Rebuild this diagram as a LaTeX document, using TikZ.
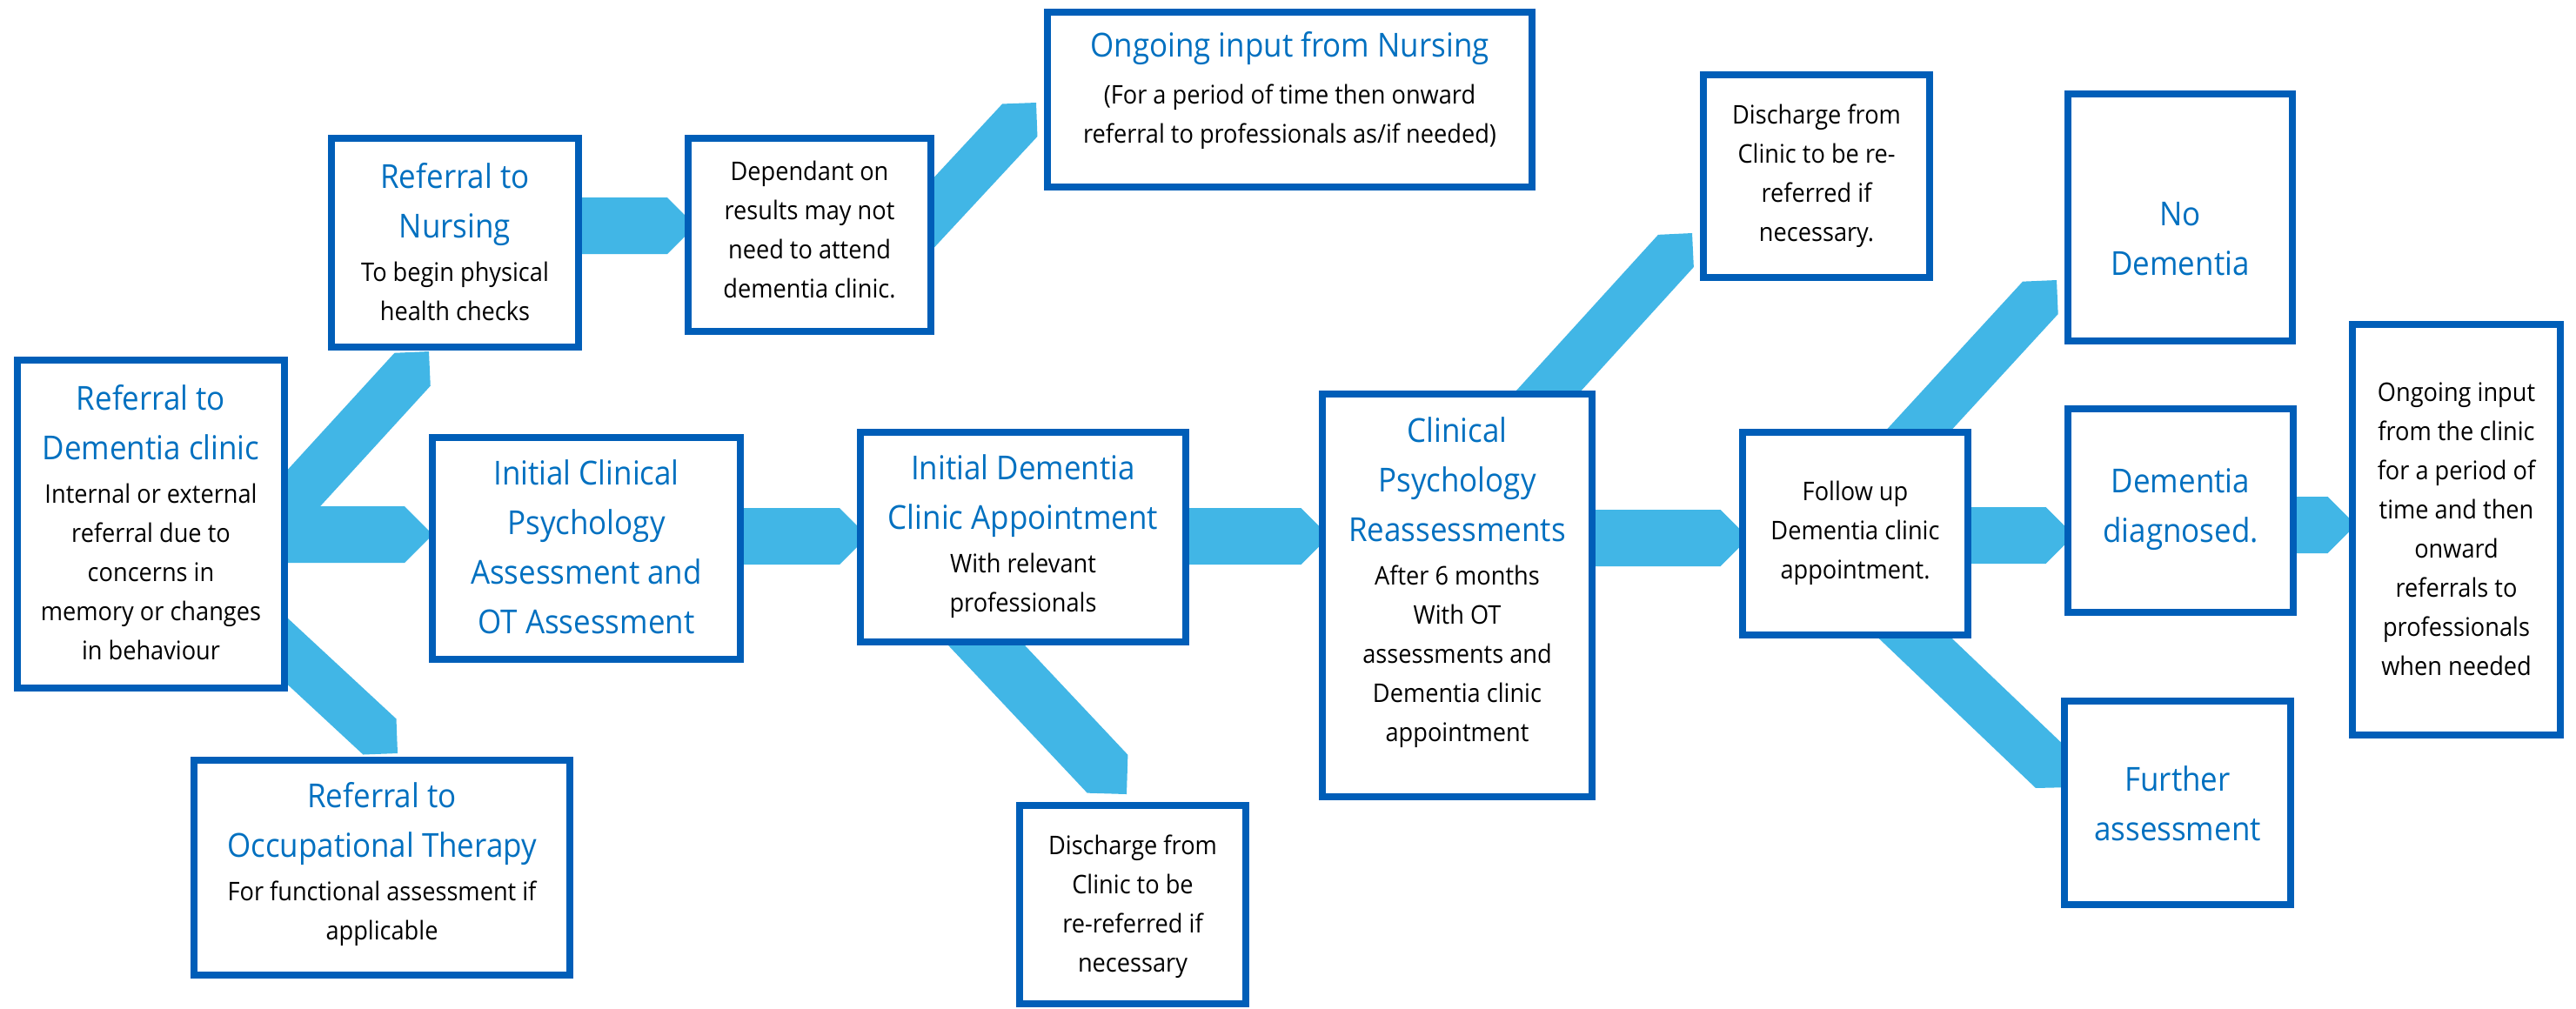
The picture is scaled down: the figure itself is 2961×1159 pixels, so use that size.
\documentclass[tikz,border=0pt]{standalone}
\usepackage{fontspec}
\setmainfont{Open Sans}[FakeStretch=0.92]
\usetikzlibrary{calc,fit}
\definecolor{boxblue}{HTML}{005EB8}
\definecolor{ttlblue}{HTML}{0070C0}
\definecolor{arrowblue}{HTML}{41B6E6}
\newcommand\ttlf{\fontsize{10.8pt}{12.8pt}\selectfont\color{ttlblue}}
\newcommand\bdyf{\fontsize{8.4pt}{12.8pt}\selectfont}
\newcommand\flowarrow[3]{%
  \coordinate (fas) at ($(#2)!#3!(#1)$);
  \fill[arrowblue] ($(#1)!#3!90:(#2)$) -- ($(fas)!#3!-90:(#1)$) -- (#2) -- ($(fas)!#3!90:(#1)$) -- ($(#1)!#3!-90:(#2)$) -- cycle;
}
\tikzset{
  flowbox/.style={draw=boxblue, line width=2.276pt, fill=white, inner sep=0pt, rectangle},
  flowtext/.style={align=center, font=\bdyf, inner sep=0pt, text=black},
}
\begin{document}
\begin{tikzpicture}[x=0.01cm,y=-0.01cm]
\useasboundingbox (0,0) rectangle (2961,1159);
\fill[white] (0,0) rectangle (2961,1159);

% connector end points
\coordinate (a1s) at (290.5,625.4);  \coordinate (a1t) at (493,404);
\coordinate (a2s) at (300,614.5);    \coordinate (a2t) at (497.5,614.5);
\coordinate (a3s) at (237,662);      \coordinate (a3t) at (457,866);
\coordinate (a4s) at (640,259.5);    \coordinate (a4t) at (799.5,259.5);
\coordinate (a5s) at (1021,301);     \coordinate (a5t) at (1191,118);
\coordinate (a6s) at (830,616.5);    \coordinate (a6t) at (997.5,616.5);
\coordinate (a7s) at (1340,616.5);   \coordinate (a7t) at (1528,616.5);
\coordinate (a8s) at (1089.5,694.6); \coordinate (a8t) at (1295,913);
\coordinate (a9s) at (1810,618.5);   \coordinate (a9t) at (2010,618.5);
\coordinate (a10s) at (1743,490);    \coordinate (a10t) at (1945,268);
\coordinate (a11s) at (2240,615.5);  \coordinate (a11t) at (2384,615.5);
\coordinate (a12s) at (2161,543);    \coordinate (a12t) at (2364,322);
\coordinate (a13s) at (2164,698);    \coordinate (a13t) at (2381,905);
\coordinate (a14s) at (2610,603.5);  \coordinate (a14t) at (2708,603.5);

\flowarrow{a1s}{a1t}{0.28cm}
\flowarrow{a2s}{a2t}{0.325cm}
\flowarrow{a3s}{a3t}{0.28cm}
\flowarrow{a4s}{a4t}{0.325cm}
\flowarrow{a5s}{a5t}{0.275cm}
\flowarrow{a6s}{a6t}{0.325cm}
\flowarrow{a7s}{a7t}{0.325cm}
\flowarrow{a8s}{a8t}{0.32cm}
\flowarrow{a9s}{a9t}{0.325cm}
\flowarrow{a10s}{a10t}{0.276cm}
\flowarrow{a11s}{a11t}{0.325cm}
\flowarrow{a12s}{a12t}{0.276cm}
\flowarrow{a13s}{a13t}{0.29cm}
\flowarrow{a14s}{a14t}{0.325cm}

% boxes (outer edge minus half line width)
\node[flowbox, fit={(20,414) (327,791)}] (A) {};
\node[flowbox, fit={(381,159) (665,399)}] (B) {};
\node[flowbox, fit={(791,159) (1070,381)}] (Dep) {};
\node[flowbox, fit={(1204,14) (1761,215)}] (ON) {};
\node[flowbox, fit={(497,503) (851,758)}] (ICP) {};
\node[flowbox, fit={(223,874) (655,1121)}] (OT) {};
\node[flowbox, fit={(989,497) (1363,738)}] (IDC) {};
\node[flowbox, fit={(1172,926) (1432,1154)}] (DB) {};
\node[flowbox, fit={(1520,453) (1830,916)}] (CPR) {};
\node[flowbox, fit={(1958,86) (2218,319)}] (DT) {};
\node[flowbox, fit={(2003,497) (2262,730)}] (FU) {};
\node[flowbox, fit={(2377,108) (2635,392)}] (ND) {};
\node[flowbox, fit={(2377,470) (2636,704)}] (DD) {};
\node[flowbox, fit={(2373,806) (2633,1040)}] (FA) {};
\node[flowbox, fit={(2704,373) (2943,845)}] (OC) {};

% texts
\node[flowtext] (At) at (173.5,601) {{\ttlf Referral to}\\[3.4pt]{\ttlf Dementia clinic}\\[1.4pt]Internal or external\\referral due to\\concerns in\\memory or changes\\in behaviour};
\node[flowtext] (Bt) at (523,278) {{\ttlf Referral to}\\[3.4pt]{\ttlf Nursing}\\[1.4pt]To begin physical\\health checks};
\node[flowtext] (Dept) at (930.5,263.5) {Dependant on\\results may not\\need to attend\\dementia clinic.};
\node[flowtext] (ONt) at (1482.5,104) {{\ttlf Ongoing input from Nursing}\\[2.3pt](For a period of time then onward\\referral to professionals as/if needed)};
\node[flowtext] (ICPt) at (674,628.5) {{\ttlf Initial Clinical}\\[3.4pt]{\ttlf Psychology}\\[3.4pt]{\ttlf Assessment and}\\[3.4pt]{\ttlf OT Assessment}};
\node[flowtext] (OTt) at (439,993.5) {{\ttlf Referral to}\\[3.4pt]{\ttlf Occupational Therapy}\\[1.4pt]For functional assessment if\\applicable};
\node[flowtext] (IDCt) at (1176,616.5) {{\ttlf Initial Dementia}\\[3.4pt]{\ttlf Clinic Appointment}\\[1.4pt]With relevant\\professionals};
\node[flowtext] (DBt) at (1302,1042.5) {Discharge from\\Clinic to be\\re-referred if\\necessary};
\node[flowtext] (CPRt) at (1675,669.5) {{\ttlf Clinical}\\[3.4pt]{\ttlf Psychology}\\[3.4pt]{\ttlf Reassessments}\\[1.4pt]After 6 months\\With OT\\assessments and\\Dementia clinic\\appointment};
\node[flowtext] (DTt) at (2088,202.5) {Discharge from\\Clinic to be re-\\referred if\\necessary.};
\node[flowtext] (FUt) at (2132.5,613) {Follow up\\Dementia clinic\\appointment.};
\node[flowtext] (NDt) at (2506,274.5) {{\ttlf No}\\[3.4pt]{\ttlf Dementia}};
\node[flowtext] (DDt) at (2506.5,586) {{\ttlf Dementia}\\[3.4pt]{\ttlf diagnosed.}};
\node[flowtext] (FAt) at (2503,923.5) {{\ttlf Further}\\[3.4pt]{\ttlf assessment}};
\node[flowtext] (OCt) at (2823.5,608.5) {Ongoing input\\from the clinic\\for a period of\\time and then\\onward\\referrals to\\professionals\\when needed};
\end{tikzpicture}
\end{document}
